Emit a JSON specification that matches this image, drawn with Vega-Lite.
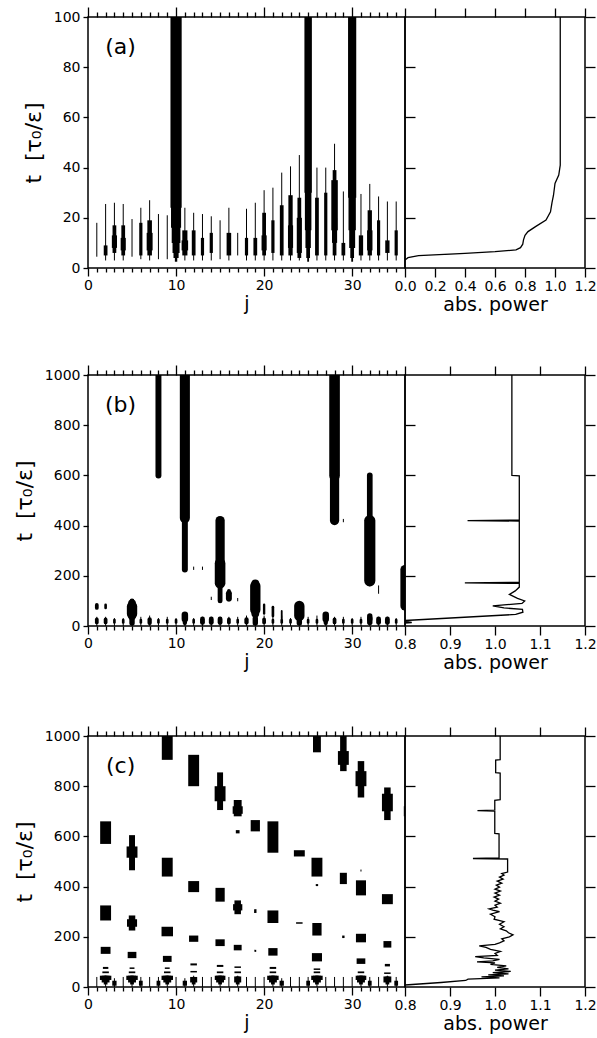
{
"$schema":"https://vega.github.io/schema/vega-lite/v6.json",
"background":"white",
"padding":{"left":12,"top":5,"right":0,"bottom":0},
"config":{"view":{"stroke":"black","strokeWidth":1.5},"axis":{"domain":false,"grid":false,"tickColor":"black","tickWidth":1.3,"labelColor":"black","labelFont":"DejaVu Sans","labelFontSize":14,"titleFont":"DejaVu Sans","titleFontSize":19,"titleFontWeight":"normal","titleColor":"black","labelFlush":false,"labelOverlap":false}},
"datasets":{
"segA":[
{"j":1,"t0":4.5,"t1":18,"a":1},
{"j":2,"t0":3,"t1":25.5,"a":1},{"j":2,"t0":5,"t1":9,"a":2},
{"j":3,"t0":3,"t1":26,"a":1},{"j":3,"t0":6,"t1":17,"a":2},{"j":3,"t0":8,"t1":13,"a":2.5},
{"j":4,"t0":3,"t1":25.5,"a":1},{"j":4,"t0":5,"t1":17,"a":2},{"j":4,"t0":7,"t1":12,"a":2.5},
{"j":5,"t0":4.5,"t1":19.5,"a":1},
{"j":6,"t0":3.5,"t1":24,"a":1},{"j":6,"t0":5,"t1":18,"a":1.8},
{"j":7,"t0":3,"t1":27,"a":1},{"j":7,"t0":5,"t1":19,"a":2.3},{"j":7,"t0":7,"t1":14,"a":2.8},
{"j":8,"t0":3.5,"t1":21.5,"a":1},
{"j":9,"t0":3.5,"t1":21,"a":1},
{"j":10,"t0":2.5,"t1":100,"a":1.5},{"j":10,"t0":4,"t1":100,"a":2.5},{"j":10,"t0":6,"t1":100,"a":3.2},{"j":10,"t0":10,"t1":100,"a":3.8},{"j":10,"t0":16,"t1":100,"a":4.3},{"j":10,"t0":24,"t1":100,"a":4.7},
{"j":11,"t0":3,"t1":24,"a":1},{"j":11,"t0":5,"t1":15,"a":2.5},{"j":11,"t0":7,"t1":11,"a":3},
{"j":12,"t0":3,"t1":22,"a":1},{"j":12,"t0":5,"t1":15,"a":2},
{"j":13,"t0":3,"t1":21.5,"a":1},{"j":13,"t0":5,"t1":12,"a":1.8},
{"j":14,"t0":3,"t1":20.6,"a":1},{"j":14,"t0":6,"t1":14,"a":1.8},
{"j":15,"t0":3.5,"t1":19,"a":1},
{"j":16,"t0":3,"t1":24,"a":1},{"j":16,"t0":5,"t1":14,"a":2.3},
{"j":17,"t0":5,"t1":14,"a":1},
{"j":18,"t0":3,"t1":23.6,"a":1},{"j":18,"t0":5,"t1":12,"a":1.8},
{"j":19,"t0":3,"t1":26,"a":1},{"j":19,"t0":5,"t1":12,"a":2},
{"j":20,"t0":3,"t1":31,"a":1},{"j":20,"t0":5,"t1":22,"a":2},{"j":20,"t0":7,"t1":13,"a":2.5},
{"j":21,"t0":3,"t1":32,"a":1},{"j":21,"t0":6,"t1":19,"a":1.8},
{"j":22,"t0":3,"t1":38,"a":1},{"j":22,"t0":5,"t1":25,"a":2},
{"j":23,"t0":3,"t1":40.5,"a":1},{"j":23,"t0":5,"t1":29,"a":2.2},{"j":23,"t0":8,"t1":17,"a":2.5},
{"j":24,"t0":3,"t1":45,"a":1},{"j":24,"t0":4,"t1":28,"a":2},{"j":24,"t0":6,"t1":20,"a":2.5},
{"j":25,"t0":2.5,"t1":100,"a":1.3},{"j":25,"t0":4,"t1":100,"a":2},{"j":25,"t0":8,"t1":100,"a":2.6},{"j":25,"t0":15,"t1":100,"a":3},{"j":25,"t0":30,"t1":100,"a":3.3},
{"j":26,"t0":3,"t1":40,"a":1},{"j":26,"t0":5,"t1":28,"a":2},
{"j":27,"t0":3,"t1":40,"a":1},{"j":27,"t0":5,"t1":30,"a":1.8},
{"j":28,"t0":3,"t1":49.5,"a":1},{"j":28,"t0":5,"t1":39,"a":2},{"j":28,"t0":10,"t1":20,"a":2.5},{"j":28,"t0":15,"t1":35,"a":3},
{"j":29,"t0":3,"t1":30.5,"a":1},{"j":29,"t0":5,"t1":10,"a":2},
{"j":30,"t0":2.5,"t1":100,"a":1.3},{"j":30,"t0":4,"t1":100,"a":2},{"j":30,"t0":8,"t1":100,"a":2.8},{"j":30,"t0":15,"t1":100,"a":3.3},{"j":30,"t0":28,"t1":100,"a":3.6},
{"j":31,"t0":3,"t1":29.5,"a":1},{"j":31,"t0":5,"t1":13,"a":2.2},
{"j":32,"t0":3,"t1":33.5,"a":1},{"j":32,"t0":5,"t1":23,"a":2.2},{"j":32,"t0":7,"t1":15,"a":2.6},
{"j":33,"t0":3,"t1":28.5,"a":1},{"j":33,"t0":5,"t1":19,"a":1.8},
{"j":34,"t0":3,"t1":26.5,"a":1},{"j":34,"t0":6,"t1":11,"a":2.2},
{"j":35,"t0":3,"t1":26.5,"a":1},{"j":35,"t0":5,"t1":15,"a":1.8}
],
"segB":[
{"j":1,"t0":0,"t1":35,"a":1},{"j":2,"t0":0,"t1":35,"a":1},{"j":3,"t0":0,"t1":30,"a":1},{"j":4,"t0":0,"t1":30,"a":1},{"j":5,"t0":0,"t1":35,"a":1},{"j":6,"t0":0,"t1":35,"a":1},{"j":7,"t0":0,"t1":40,"a":1},{"j":8,"t0":0,"t1":30,"a":1},{"j":9,"t0":0,"t1":35,"a":1},{"j":10,"t0":0,"t1":30,"a":1},
{"j":11,"t0":0,"t1":35,"a":1},{"j":12,"t0":0,"t1":30,"a":1},{"j":13,"t0":0,"t1":35,"a":1},{"j":14,"t0":0,"t1":35,"a":1},{"j":15,"t0":0,"t1":35,"a":1},{"j":16,"t0":0,"t1":35,"a":1},{"j":17,"t0":0,"t1":35,"a":1},{"j":18,"t0":0,"t1":40,"a":1},{"j":19,"t0":0,"t1":35,"a":1},{"j":20,"t0":0,"t1":40,"a":1},
{"j":21,"t0":0,"t1":40,"a":1},{"j":22,"t0":0,"t1":40,"a":1},{"j":23,"t0":0,"t1":30,"a":1},{"j":24,"t0":0,"t1":35,"a":1},{"j":25,"t0":0,"t1":35,"a":1},{"j":26,"t0":0,"t1":40,"a":1},{"j":27,"t0":0,"t1":40,"a":1},{"j":28,"t0":0,"t1":35,"a":1},{"j":29,"t0":0,"t1":35,"a":1},{"j":30,"t0":0,"t1":30,"a":1},
{"j":31,"t0":0,"t1":35,"a":1},{"j":32,"t0":0,"t1":35,"a":1},{"j":33,"t0":0,"t1":35,"a":1},{"j":34,"t0":0,"t1":35,"a":1},{"j":35,"t0":0,"t1":30,"a":1},
{"j":1,"t0":14,"t1":26,"a":2},{"j":2,"t0":14,"t1":26,"a":2},{"j":3,"t0":14,"t1":24,"a":1.6},{"j":4,"t0":14,"t1":24,"a":1.6},{"j":5,"t0":12,"t1":28,"a":2.6},{"j":6,"t0":14,"t1":24,"a":1.6},{"j":7,"t0":12,"t1":26,"a":2.2},{"j":8,"t0":14,"t1":24,"a":1.6},{"j":9,"t0":14,"t1":24,"a":1.6},{"j":10,"t0":14,"t1":24,"a":1.6},
{"j":11,"t0":12,"t1":26,"a":2.2},{"j":12,"t0":14,"t1":24,"a":1.6},{"j":13,"t0":14,"t1":28,"a":2.4},{"j":14,"t0":14,"t1":28,"a":2.4},{"j":15,"t0":14,"t1":28,"a":2.4},{"j":16,"t0":14,"t1":26,"a":2},{"j":17,"t0":14,"t1":24,"a":1.6},{"j":18,"t0":14,"t1":26,"a":2.2},{"j":19,"t0":12,"t1":28,"a":2.6},{"j":20,"t0":14,"t1":26,"a":2},
{"j":21,"t0":14,"t1":24,"a":1.6},{"j":22,"t0":14,"t1":24,"a":1.6},{"j":23,"t0":14,"t1":24,"a":1.6},{"j":24,"t0":12,"t1":28,"a":2.6},{"j":25,"t0":14,"t1":24,"a":1.6},{"j":26,"t0":14,"t1":24,"a":1.6},{"j":27,"t0":12,"t1":26,"a":2.2},{"j":28,"t0":14,"t1":26,"a":2},{"j":29,"t0":14,"t1":24,"a":1.6},{"j":30,"t0":14,"t1":24,"a":1.6},
{"j":31,"t0":14,"t1":24,"a":1.6},{"j":32,"t0":14,"t1":30,"a":2.6},{"j":33,"t0":14,"t1":28,"a":2.4},{"j":34,"t0":14,"t1":28,"a":2.4},{"j":35,"t0":14,"t1":24,"a":1.6},
{"j":1,"t0":72,"t1":84,"a":2},{"j":2,"t0":72,"t1":84,"a":1.6},
{"j":5,"t0":30,"t1":100,"a":2.4},{"j":5,"t0":40,"t1":90,"a":3.5},{"j":5,"t0":48,"t1":78,"a":4.4},
{"j":8,"t0":600,"t1":1000,"a":2.8},
{"j":11,"t0":225,"t1":430,"a":2.8},{"j":11,"t0":430,"t1":1000,"a":4.3},{"j":11,"t0":28,"t1":45,"a":3},
{"j":12,"t0":225,"t1":235,"a":1},{"j":13,"t0":225,"t1":235,"a":1},{"j":14,"t0":105,"t1":115,"a":1},
{"j":15,"t0":100,"t1":170,"a":2.4},{"j":15,"t0":170,"t1":250,"a":4.5},{"j":15,"t0":250,"t1":420,"a":4},
{"j":16,"t0":105,"t1":140,"a":2},{"j":16,"t0":110,"t1":130,"a":2.8},{"j":17,"t0":100,"t1":110,"a":1},
{"j":19,"t0":50,"t1":170,"a":3.5},{"j":19,"t0":65,"t1":160,"a":4.4},{"j":19,"t0":28,"t1":50,"a":2.4},
{"j":20,"t0":50,"t1":85,"a":1.5},{"j":21,"t0":40,"t1":75,"a":1.6},{"j":22,"t0":30,"t1":60,"a":1.3},
{"j":24,"t0":40,"t1":80,"a":4.4},{"j":27,"t0":28,"t1":45,"a":3},
{"j":28,"t0":420,"t1":600,"a":4},{"j":28,"t0":600,"t1":1000,"a":4.5},{"j":29,"t0":415,"t1":425,"a":1},
{"j":32,"t0":170,"t1":600,"a":2.7},{"j":32,"t0":180,"t1":420,"a":4.7},{"j":33,"t0":130,"t1":160,"a":1},
{"j":32,"t0":28,"t1":40,"a":2.6},
{"j":36,"t0":80,"t1":225,"a":4}
],
"segC":[
{"j":1,"t0":0,"t1":40,"a":1},{"j":2,"t0":0,"t1":45,"a":1},{"j":3,"t0":0,"t1":35,"a":1},{"j":4,"t0":0,"t1":40,"a":1},{"j":5,"t0":0,"t1":45,"a":1},{"j":6,"t0":0,"t1":40,"a":1},{"j":7,"t0":0,"t1":40,"a":1},{"j":8,"t0":0,"t1":40,"a":1},{"j":9,"t0":0,"t1":45,"a":1},{"j":10,"t0":0,"t1":40,"a":1},
{"j":11,"t0":0,"t1":35,"a":1},{"j":12,"t0":0,"t1":45,"a":1},{"j":13,"t0":0,"t1":40,"a":1},{"j":14,"t0":0,"t1":40,"a":1},{"j":15,"t0":0,"t1":45,"a":1},{"j":16,"t0":0,"t1":40,"a":1},{"j":17,"t0":0,"t1":45,"a":1},{"j":18,"t0":0,"t1":40,"a":1},{"j":19,"t0":0,"t1":40,"a":1},{"j":20,"t0":0,"t1":40,"a":1},
{"j":21,"t0":0,"t1":45,"a":1},{"j":22,"t0":0,"t1":35,"a":1},{"j":23,"t0":0,"t1":40,"a":1},{"j":24,"t0":0,"t1":40,"a":1},{"j":25,"t0":0,"t1":40,"a":1},{"j":26,"t0":0,"t1":45,"a":1},{"j":27,"t0":0,"t1":40,"a":1},{"j":28,"t0":0,"t1":40,"a":1},{"j":29,"t0":0,"t1":40,"a":1},{"j":30,"t0":0,"t1":40,"a":1},
{"j":31,"t0":0,"t1":45,"a":1},{"j":32,"t0":0,"t1":40,"a":1},{"j":33,"t0":0,"t1":40,"a":1},{"j":34,"t0":0,"t1":45,"a":1},{"j":35,"t0":0,"t1":40,"a":1},
{"j":3,"t0":5,"t1":25,"a":2.2},{"j":6,"t0":5,"t1":25,"a":2},{"j":8,"t0":5,"t1":25,"a":2},{"j":11,"t0":5,"t1":25,"a":2.2},{"j":22,"t0":5,"t1":25,"a":2.2},{"j":25,"t0":5,"t1":25,"a":2},{"j":32,"t0":5,"t1":25,"a":2},{"j":35,"t0":5,"t1":25,"a":2},
{"j":2,"t0":10,"t1":45,"a":2},{"j":2,"t0":18,"t1":45,"a":3.5},{"j":2,"t0":28,"t1":45,"a":4.8},{"j":2,"t0":55,"t1":62,"a":3},{"j":2,"t0":72,"t1":80,"a":2.6},
{"j":5,"t0":10,"t1":45,"a":2},{"j":5,"t0":18,"t1":45,"a":3.5},{"j":5,"t0":28,"t1":45,"a":4.8},{"j":5,"t0":55,"t1":62,"a":3},{"j":5,"t0":72,"t1":78,"a":2.4},
{"j":9,"t0":10,"t1":45,"a":2},{"j":9,"t0":18,"t1":45,"a":3.5},{"j":9,"t0":28,"t1":45,"a":4.8},{"j":9,"t0":55,"t1":62,"a":3},{"j":9,"t0":72,"t1":78,"a":2.4},
{"j":12,"t0":10,"t1":40,"a":2},{"j":12,"t0":18,"t1":40,"a":3.2},{"j":12,"t0":58,"t1":64,"a":3},{"j":12,"t0":86,"t1":94,"a":3},
{"j":15,"t0":10,"t1":45,"a":2},{"j":15,"t0":18,"t1":45,"a":3.5},{"j":15,"t0":28,"t1":45,"a":4.5},{"j":15,"t0":55,"t1":62,"a":3},{"j":15,"t0":80,"t1":88,"a":3},
{"j":17,"t0":10,"t1":42,"a":2},{"j":17,"t0":18,"t1":42,"a":3.2},{"j":17,"t0":55,"t1":62,"a":3},{"j":17,"t0":76,"t1":82,"a":3},
{"j":21,"t0":10,"t1":45,"a":2},{"j":21,"t0":18,"t1":45,"a":3.5},{"j":21,"t0":28,"t1":45,"a":4.8},{"j":21,"t0":55,"t1":62,"a":3},{"j":21,"t0":72,"t1":80,"a":3},
{"j":26,"t0":10,"t1":45,"a":2},{"j":26,"t0":18,"t1":45,"a":3.5},{"j":26,"t0":28,"t1":45,"a":4.8},{"j":26,"t0":55,"t1":62,"a":3},{"j":26,"t0":68,"t1":74,"a":3},
{"j":31,"t0":10,"t1":45,"a":2},{"j":31,"t0":18,"t1":45,"a":3.5},{"j":31,"t0":28,"t1":45,"a":4.5},{"j":31,"t0":55,"t1":62,"a":3},
{"j":34,"t0":10,"t1":42,"a":2},{"j":34,"t0":18,"t1":42,"a":3.5},{"j":34,"t0":52,"t1":58,"a":3},
{"j":2,"t0":570,"t1":660,"a":4.6},{"j":2,"t0":265,"t1":325,"a":4.6},{"j":2,"t0":132,"t1":160,"a":4.2},
{"j":5,"t0":465,"t1":605,"a":2.8},{"j":5,"t0":515,"t1":560,"a":4.6},{"j":5,"t0":225,"t1":285,"a":3},{"j":5,"t0":240,"t1":270,"a":4.3},{"j":5,"t0":115,"t1":140,"a":3.8},
{"j":9,"t0":905,"t1":1000,"a":4.6},{"j":9,"t0":440,"t1":515,"a":4.6},{"j":9,"t0":202,"t1":240,"a":4.8},{"j":9,"t0":100,"t1":124,"a":3.8},
{"j":12,"t0":800,"t1":925,"a":4.6},{"j":12,"t0":378,"t1":422,"a":4.6},{"j":12,"t0":180,"t1":205,"a":4},
{"j":15,"t0":705,"t1":855,"a":2.8},{"j":15,"t0":740,"t1":800,"a":4.6},{"j":15,"t0":340,"t1":395,"a":4},{"j":15,"t0":163,"t1":190,"a":4},
{"j":17,"t0":680,"t1":745,"a":3.5},{"j":17,"t0":690,"t1":720,"a":4.3},{"j":17,"t0":612,"t1":625,"a":2},{"j":17,"t0":290,"t1":345,"a":3},{"j":17,"t0":305,"t1":330,"a":4},{"j":17,"t0":146,"t1":168,"a":3.5},
{"j":19,"t0":620,"t1":665,"a":4},{"j":19,"t0":295,"t1":310,"a":1.5},{"j":19,"t0":140,"t1":148,"a":1.3},
{"j":21,"t0":535,"t1":660,"a":4.6},{"j":21,"t0":255,"t1":305,"a":4.6},{"j":21,"t0":125,"t1":155,"a":4},
{"j":24,"t0":520,"t1":545,"a":4.6},{"j":24,"t0":252,"t1":258,"a":3},
{"j":26,"t0":935,"t1":1000,"a":3.5},{"j":26,"t0":440,"t1":515,"a":4.6},{"j":26,"t0":205,"t1":255,"a":4},{"j":26,"t0":102,"t1":135,"a":4.3},{"j":26,"t0":402,"t1":410,"a":1.5},
{"j":29,"t0":860,"t1":1000,"a":3},{"j":29,"t0":885,"t1":940,"a":4.6},{"j":29,"t0":410,"t1":455,"a":3.2},{"j":29,"t0":195,"t1":205,"a":1.5},
{"j":31,"t0":755,"t1":900,"a":3},{"j":31,"t0":800,"t1":860,"a":4.6},{"j":31,"t0":365,"t1":425,"a":4.3},{"j":31,"t0":178,"t1":212,"a":4.3},{"j":31,"t0":92,"t1":114,"a":3.8},{"j":31,"t0":460,"t1":468,"a":1},
{"j":34,"t0":665,"t1":795,"a":3},{"j":34,"t0":700,"t1":770,"a":4.6},{"j":34,"t0":330,"t1":370,"a":4.6},{"j":34,"t0":157,"t1":183,"a":3.5},{"j":34,"t0":82,"t1":92,"a":2.5},
{"j":36,"t0":680,"t1":720,"a":1.5}
],
"lineA":[
{"t":3.2,"p":0},{"t":4.1,"p":0.02},{"t":4.9,"p":0.09},{"t":5.8,"p":0.4},{"t":6.5,"p":0.6},{"t":7.2,"p":0.74},{"t":8.1,"p":0.77},{"t":9.5,"p":0.785},{"t":11.2,"p":0.79},{"t":13,"p":0.8},{"t":14.5,"p":0.82},{"t":16.5,"p":0.87},{"t":19.1,"p":0.94},{"t":22.4,"p":0.97},{"t":26,"p":0.98},{"t":29,"p":0.99},{"t":33.7,"p":1.0},{"t":37,"p":1.025},{"t":41,"p":1.035},{"t":100,"p":1.035}
],
"lineB":[
{"t":10,"p":0.79},{"t":14,"p":0.815},{"t":18,"p":0.80},{"t":22,"p":0.80},{"t":46,"p":1.046},{"t":55,"p":1.062},{"t":66,"p":1.061},{"t":72,"p":1.02},{"t":80,"p":0.995},{"t":84,"p":1.02},{"t":90,"p":1.06},{"t":100,"p":1.066},{"t":110,"p":1.05},{"t":126,"p":1.032},{"t":140,"p":1.045},{"t":155,"p":1.054},{"t":170,"p":1.054},{"t":172,"p":0.933},{"t":174,"p":1.054},{"t":418,"p":1.054},{"t":420,"p":0.939},{"t":422,"p":1.054},{"t":598,"p":1.054},{"t":600,"p":1.0375},{"t":1000,"p":1.0375}
],
"lineC":[
{"t":8,"p":0.80},{"t":18,"p":0.88},{"t":26,"p":0.935},{"t":31,"p":0.94},{"t":36,"p":1.01},{"t":40,"p":0.97},{"t":44,"p":1.02},{"t":48,"p":0.985},{"t":52,"p":1.03},{"t":57,"p":0.995},{"t":62,"p":1.035},{"t":67,"p":1.0},{"t":72,"p":1.03},{"t":78,"p":1.005},{"t":84,"p":1.025},{"t":90,"p":0.99},{"t":96,"p":1.0},{"t":100,"p":0.96},{"t":104,"p":0.995},{"t":110,"p":1.01},{"t":116,"p":0.975},{"t":121,"p":0.956},{"t":126,"p":1.005},{"t":134,"p":1.0},{"t":142,"p":1.012},{"t":150,"p":0.99},{"t":158,"p":0.98},{"t":164,"p":0.965},{"t":170,"p":1.0},{"t":176,"p":1.01},{"t":184,"p":1.02},{"t":192,"p":1.015},{"t":200,"p":1.032},{"t":208,"p":1.04},{"t":216,"p":1.03},{"t":224,"p":1.025},{"t":232,"p":1.012},{"t":240,"p":1.02},{"t":250,"p":1.01},{"t":260,"p":1.02},{"t":270,"p":0.998},{"t":280,"p":1.0},{"t":290,"p":0.99},{"t":300,"p":1.01},{"t":306,"p":0.995},{"t":311,"p":0.987},{"t":318,"p":1.005},{"t":326,"p":1.0},{"t":334,"p":1.012},{"t":342,"p":1.0},{"t":350,"p":1.008},{"t":358,"p":0.998},{"t":366,"p":1.01},{"t":374,"p":1.0},{"t":382,"p":1.012},{"t":390,"p":1.0},{"t":398,"p":1.01},{"t":406,"p":1.003},{"t":414,"p":1.015},{"t":422,"p":1.005},{"t":430,"p":1.018},{"t":438,"p":1.01},{"t":446,"p":1.02},{"t":452,"p":1.015},{"t":458,"p":1.028},{"t":510,"p":1.028},{"t":512,"p":0.951},{"t":514,"p":1.009},{"t":610,"p":1.009},{"t":612,"p":0.9995},{"t":701,"p":0.9995},{"t":703,"p":0.961},{"t":705,"p":0.9995},{"t":744,"p":0.9995},{"t":746,"p":1.0115},{"t":852,"p":1.0115},{"t":854,"p":1.0015},{"t":904,"p":1.0015},{"t":906,"p":1.0115},{"t":1000,"p":1.0115}
]
},
"spacing":48,
"vconcat":[
{"hconcat":[
 {"width":317,"height":251,
  "layer":[
   {"data":{"name":"segA"},"mark":{"type":"rule","color":"black","clip":true},
    "encoding":{
     "x":{"field":"j","type":"quantitative","scale":{"domain":[0,36],"nice":false,"zero":false},"axis":{"orient":"bottom","values":[0,1,2,3,4,5,6,7,8,9,10,11,12,13,14,15,16,17,18,19,20,21,22,23,24,25,26,27,28,29,30,31,32,33,34,35],"labelExpr":"datum.value % 10 === 0 ? datum.label : ''","tickSize":{"condition":{"test":"datum.value % 10 === 0","value":8},"value":4},"labelPadding":2,"title":"j","titlePadding":2}},
     "y":{"field":"t0","type":"quantitative","scale":{"domain":[0,100],"nice":false},"axis":{"orient":"left","values":[0,20,40,60,80,100],"format":"d","tickSize":5,"labelPadding":3,"title":"t\u00a0\u00a0[τ₀/ε]","titleFontSize":22,"titlePadding":8}},
     "y2":{"field":"t1"},
     "strokeWidth":{"field":"a","type":"quantitative","scale":{"domain":[1,5],"range":[1,12]},"legend":null}}},
   {"data":{"values":[{"lab":"(a)","jx":3.7,"ty":88}]},
    "mark":{"type":"text","font":"DejaVu Sans","fontSize":22,"align":"center","baseline":"middle","color":"black"},
    "encoding":{"x":{"field":"jx","type":"quantitative","axis":{"orient":"top","values":[0,1,2,3,4,5,6,7,8,9,10,11,12,13,14,15,16,17,18,19,20,21,22,23,24,25,26,27,28,29,30,31,32,33,34,35],"labels":false,"title":null,"tickSize":{"condition":{"test":"datum.value % 10 === 0","value":10},"value":5}}},"y":{"field":"ty","type":"quantitative","axis":null},"text":{"field":"lab"}}}
  ],
  "resolve":{"axis":{"x":"independent","y":"independent"}}},
 {"width":180,"height":251,
  "layer":[
   {"data":{"name":"lineA"},"mark":{"type":"line","color":"black","strokeWidth":1.3,"clip":true},
    "encoding":{
     "x":{"field":"p","type":"quantitative","scale":{"domain":[0,1.2],"nice":false,"zero":false},"axis":{"orient":"bottom","values":[0,0.2,0.4,0.6,0.8,1.0,1.2],"format":".1f","tickSize":9,"labelPadding":2,"title":"abs. power","titlePadding":2}},
     "y":{"field":"t","type":"quantitative","scale":{"domain":[0,100],"nice":false},"axis":{"orient":"left","values":[20,40,60,80],"labels":false,"tickSize":-10,"title":null}},
     "order":{"field":"t","type":"quantitative"}}},
   {"data":{"name":"lineA"},"mark":{"type":"line","opacity":0},
    "encoding":{"x":{"field":"p","type":"quantitative","axis":{"orient":"top","values":[0,0.2,0.4,0.6,0.8,1.0,1.2],"labels":false,"tickSize":9,"title":null}},"y":{"field":"t","type":"quantitative","axis":{"orient":"right","values":[0,20,40,60,80,100],"labels":false,"tickSize":10,"title":null}},"order":{"field":"t","type":"quantitative"}}}
  ],
  "resolve":{"axis":{"x":"independent","y":"independent"}}}
 ],"spacing":0,"bounds":"flush"},
{"spacing":51,"vconcat":[
{"hconcat":[
 {"width":317,"height":251,
  "layer":[
   {"data":{"name":"segB"},"mark":{"type":"rule","color":"black","clip":true,"strokeCap":"round"},
    "encoding":{
     "x":{"field":"j","type":"quantitative","scale":{"domain":[0,36],"nice":false,"zero":false},"axis":{"orient":"bottom","values":[0,1,2,3,4,5,6,7,8,9,10,11,12,13,14,15,16,17,18,19,20,21,22,23,24,25,26,27,28,29,30,31,32,33,34,35],"labelExpr":"datum.value % 10 === 0 ? datum.label : ''","tickSize":{"condition":{"test":"datum.value % 10 === 0","value":8},"value":4},"labelPadding":2,"title":"j","titlePadding":2}},
     "y":{"field":"t0","type":"quantitative","scale":{"domain":[0,1000],"nice":false},"axis":{"orient":"left","values":[0,200,400,600,800,1000],"format":"d","tickSize":5,"labelPadding":3,"title":"t\u00a0\u00a0[τ₀/ε]","titleFontSize":22,"titlePadding":8}},
     "y2":{"field":"t1"},
     "strokeWidth":{"field":"a","type":"quantitative","scale":{"domain":[1,5],"range":[1,12]},"legend":null}}},
   {"data":{"values":[{"lab":"(b)","jx":3.7,"ty":880}]},
    "mark":{"type":"text","font":"DejaVu Sans","fontSize":22,"align":"center","baseline":"middle","color":"black"},
    "encoding":{"x":{"field":"jx","type":"quantitative","axis":{"orient":"top","values":[0,1,2,3,4,5,6,7,8,9,10,11,12,13,14,15,16,17,18,19,20,21,22,23,24,25,26,27,28,29,30,31,32,33,34,35],"labels":false,"title":null,"tickSize":{"condition":{"test":"datum.value % 10 === 0","value":10},"value":5}}},"y":{"field":"ty","type":"quantitative","axis":null},"text":{"field":"lab"}}}
  ],
  "resolve":{"axis":{"x":"independent","y":"independent"}}},
 {"width":180,"height":251,
  "layer":[
   {"data":{"name":"lineB"},"mark":{"type":"line","color":"black","strokeWidth":1.3,"clip":true},
    "encoding":{
     "x":{"field":"p","type":"quantitative","scale":{"domain":[0.8,1.2],"nice":false,"zero":false},"axis":{"orient":"bottom","values":[0.8,0.9,1.0,1.1,1.2],"format":".1f","tickSize":9,"labelPadding":2,"title":"abs. power","titlePadding":2}},
     "y":{"field":"t","type":"quantitative","scale":{"domain":[0,1000],"nice":false},"axis":{"orient":"left","values":[200,400,600,800],"labels":false,"tickSize":-10,"title":null}},
     "order":{"field":"t","type":"quantitative"}}},
   {"data":{"name":"lineB"},"mark":{"type":"line","opacity":0},
    "encoding":{"x":{"field":"p","type":"quantitative","axis":{"orient":"top","values":[0.8,0.9,1.0,1.1,1.2],"labels":false,"tickSize":9,"title":null}},"y":{"field":"t","type":"quantitative","axis":{"orient":"right","values":[0,200,400,600,800,1000],"labels":false,"tickSize":10,"title":null}},"order":{"field":"t","type":"quantitative"}}}
  ],
  "resolve":{"axis":{"x":"independent","y":"independent"}}}
 ],"spacing":0,"bounds":"flush"},
{"hconcat":[
 {"width":317,"height":251,
  "layer":[
   {"data":{"name":"segC"},"mark":{"type":"rule","color":"black","clip":true},
    "encoding":{
     "x":{"field":"j","type":"quantitative","scale":{"domain":[0,36],"nice":false,"zero":false},"axis":{"orient":"bottom","values":[0,1,2,3,4,5,6,7,8,9,10,11,12,13,14,15,16,17,18,19,20,21,22,23,24,25,26,27,28,29,30,31,32,33,34,35],"labelExpr":"datum.value % 10 === 0 ? datum.label : ''","tickSize":{"condition":{"test":"datum.value % 10 === 0","value":8},"value":4},"labelPadding":2,"title":"j","titlePadding":2}},
     "y":{"field":"t0","type":"quantitative","scale":{"domain":[0,1000],"nice":false},"axis":{"orient":"left","values":[0,200,400,600,800,1000],"format":"d","tickSize":5,"labelPadding":3,"title":"t\u00a0\u00a0[τ₀/ε]","titleFontSize":22,"titlePadding":8}},
     "y2":{"field":"t1"},
     "strokeWidth":{"field":"a","type":"quantitative","scale":{"domain":[1,5],"range":[1,13]},"legend":null}}},
   {"data":{"values":[{"lab":"(c)","jx":3.7,"ty":880}]},
    "mark":{"type":"text","font":"DejaVu Sans","fontSize":22,"align":"center","baseline":"middle","color":"black"},
    "encoding":{"x":{"field":"jx","type":"quantitative","axis":{"orient":"top","values":[0,1,2,3,4,5,6,7,8,9,10,11,12,13,14,15,16,17,18,19,20,21,22,23,24,25,26,27,28,29,30,31,32,33,34,35],"labels":false,"title":null,"tickSize":{"condition":{"test":"datum.value % 10 === 0","value":10},"value":5}}},"y":{"field":"ty","type":"quantitative","axis":null},"text":{"field":"lab"}}}
  ],
  "resolve":{"axis":{"x":"independent","y":"independent"}}},
 {"width":180,"height":251,
  "layer":[
   {"data":{"name":"lineC"},"mark":{"type":"line","color":"black","strokeWidth":1.3,"clip":true},
    "encoding":{
     "x":{"field":"p","type":"quantitative","scale":{"domain":[0.8,1.2],"nice":false,"zero":false},"axis":{"orient":"bottom","values":[0.8,0.9,1.0,1.1,1.2],"format":".1f","tickSize":9,"labelPadding":2,"title":"abs. power","titlePadding":2}},
     "y":{"field":"t","type":"quantitative","scale":{"domain":[0,1000],"nice":false},"axis":{"orient":"left","values":[200,400,600,800],"labels":false,"tickSize":-10,"title":null}},
     "order":{"field":"t","type":"quantitative"}}},
   {"data":{"name":"lineC"},"mark":{"type":"line","opacity":0},
    "encoding":{"x":{"field":"p","type":"quantitative","axis":{"orient":"top","values":[0.8,0.9,1.0,1.1,1.2],"labels":false,"tickSize":9,"title":null}},"y":{"field":"t","type":"quantitative","axis":{"orient":"right","values":[0,200,400,600,800,1000],"labels":false,"tickSize":10,"title":null}},"order":{"field":"t","type":"quantitative"}}}
  ],
  "resolve":{"axis":{"x":"independent","y":"independent"}}}
 ],"spacing":0,"bounds":"flush"}
]}
]
}
